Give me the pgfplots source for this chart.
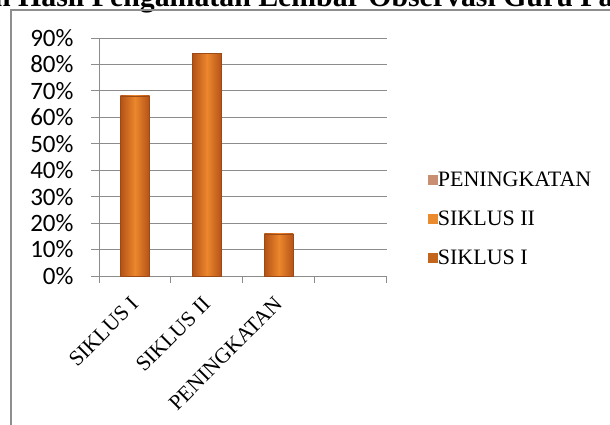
\documentclass[border=0pt]{standalone}
\usepackage{fontspec}
\setmainfont{Liberation Serif}
\newfontfamily\carlito{Carlito}
\usepackage{pgfplots}
\pgfplotsset{compat=1.18}
\definecolor{gridc}{HTML}{8C8C8C}
\definecolor{framec}{HTML}{8E8E8E}
\definecolor{barDark}{HTML}{B45217}
\definecolor{barLight}{HTML}{EC872D}
\definecolor{barEdge}{HTML}{9C4A16}
\definecolor{legP}{HTML}{C98F72}
\definecolor{legII}{HTML}{E98B2E}
\definecolor{legI}{HTML}{C4651E}
\begin{document}
\begin{tikzpicture}[x=1pt,y=1pt]
\useasboundingbox (0,0) rectangle (610,-425);
\clip (0,0) rectangle (610,-425);
\node[anchor=base west, font=\bfseries\fontsize{29.8}{30}\selectfont, inner sep=0pt] at (18,-6.5) {\llap{Grafik Peningkatan }Hasil Pengamatan Lembar Observasi Guru Pada Siklus I dan II};
\draw[framec, line width=1.5pt] (11,-430) -- (11,-10) -- (615,-10);
\begin{axis}[
  at={(99pt,-276pt)}, anchor=south west,
  scale only axis, width=288pt, height=238pt,
  xmin=-0.5, xmax=3.5, ymin=0, ymax=90,
  axis x line*=bottom, axis y line*=left,
  axis line style={gridc, line width=1pt, -},
  ytick={0,10,...,90},
  yticklabels={0\%,10\%,20\%,30\%,40\%,50\%,60\%,70\%,80\%,90\%},
  ymajorgrids, grid style={gridc, line width=1pt},
  tick align=outside, major tick length=8pt,
  ytick style={draw=gridc, line width=1pt},
  xtick={0,1,2}, xticklabels={SIKLUS I, SIKLUS II, PENINGKATAN},
  xtick style={draw=none},
  extra x ticks={-0.5,0.5,1.5,2.5,3.5}, extra x tick labels={},
  extra x tick style={xtick style={draw=gridc, line width=1pt}, major tick length=7pt, grid=none},
  yticklabel style={font=\carlito\fontsize{25}{25}\selectfont, xshift=-14pt},
  xticklabel style={font=\fontsize{21.5}{21.5}\selectfont, rotate=45, anchor=north east, inner sep=1pt, xshift=-11pt, yshift=-3pt},
  legend style={at={(1.14,0.24)}, anchor=west, draw=none, fill=none,
    font=\fontsize{22}{22}\selectfont, row sep=21pt, inner sep=0pt,
    nodes={inner sep=1pt}},
  legend cell align=left,
]
\addplot[ybar, bar width=29pt, bar shift=0pt, draw=barEdge, left color=barDark, right color=barDark, middle color=barLight, forget plot]
  coordinates {(0,68.18)};
\addplot[ybar, bar width=29pt, bar shift=0pt, draw=barEdge, left color=barDark, right color=barDark, middle color=barLight, forget plot]
  coordinates {(1,84.09)};
\addplot[ybar, bar width=29pt, bar shift=0pt, draw=barEdge, left color=barDark, right color=barDark, middle color=barLight, forget plot]
  coordinates {(2,15.91)};
\addlegendimage{legend image code/.code={\fill[legP] (0pt,-4.5pt) rectangle (9pt,4.5pt);}}
\addlegendentry{PENINGKATAN}
\addlegendimage{legend image code/.code={\fill[legII] (0pt,-4.5pt) rectangle (9pt,4.5pt);}}
\addlegendentry{SIKLUS II}
\addlegendimage{legend image code/.code={\fill[legI] (0pt,-4.5pt) rectangle (9pt,4.5pt);}}
\addlegendentry{SIKLUS I}
\end{axis}
\end{tikzpicture}
\end{document}
